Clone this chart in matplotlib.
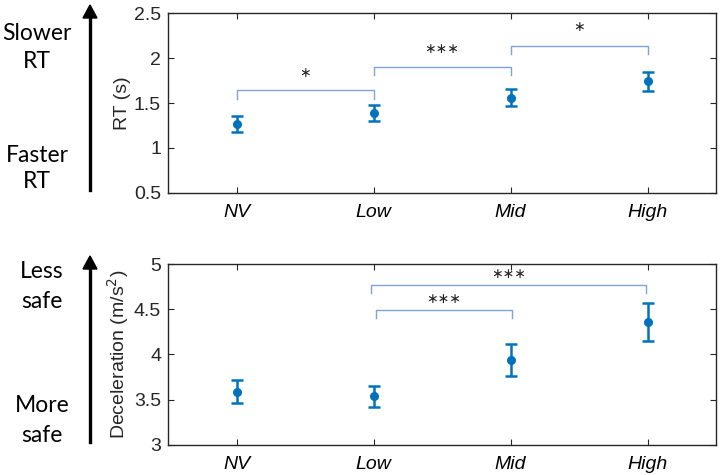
import matplotlib.pyplot as plt
import numpy as np

conditions = ["NV", "Low", "Mid", "High"]

rt_mean = [1.27, 1.39, 1.56, 1.74]
rt_err = [0.09, 0.09, 0.097, 0.105]

decel_mean = [3.59, 3.54, 3.94, 4.36]
decel_err = [0.13, 0.115, 0.175, 0.21]

# significance brackets: (from, to, bar height, leg drop, star height, n stars)
rt_sig = [(0, 1, 1.644, 0.10, 1.83, 1), (1, 2, 1.903, 0.09, 2.10, 3),
          (2, 3, 2.137, 0.095, 2.34, 1)]
decel_sig = [(1.02, 2.01, 4.49, 0.09, 4.61, 3), (0.98, 2.99, 4.77, 0.09, 4.89, 3)]

blue = "#0072BD"
bracket_col = "#7FA3DC"
spine_col = "#262626"

fig = plt.figure(figsize=(7.22, 4.75), dpi=100)
ax1 = fig.add_axes([0.2327, 0.5937, 0.759, 0.3789])
ax2 = fig.add_axes([0.2327, 0.0632, 0.759, 0.381])

x = np.arange(len(conditions))


def draw(ax, mean, err, sig, ylim, yticks, ylabel):
    ax.errorbar(x, mean, yerr=err, fmt="o", color=blue, ms=5.5, elinewidth=1.8,
                capsize=4.5, capthick=1.8)
    for a, b, h, drop, sy, n in sig:
        ax.plot([a, a, b, b], [h - drop, h, h, h - drop], color=bracket_col, lw=1)
        ax.text((a + b) / 2, sy, "\u2217" * n, ha="center",
                va="center", fontsize=10, color="#222222", family="DejaVu Sans")
    ax.set_xlim(-0.5, 3.5)
    ax.set_ylim(*ylim)
    ax.set_xticks(x)
    ax.set_xticklabels(conditions, style="italic", fontsize=14, family="Liberation Sans")
    ax.set_yticks(yticks)
    ax.set_yticklabels([("%g" % v) for v in yticks], fontsize=14, family="Liberation Sans",
                       color=spine_col)
    ax.tick_params(direction="in", top=True, right=True, length=4, width=0.8,
                   color=spine_col)
    ax.tick_params(axis="x", pad=8)
    ax.tick_params(axis="y", pad=5)
    for s in ax.spines.values():
        s.set_color(spine_col)
        s.set_linewidth(1)
    ax.set_ylabel(ylabel, fontsize=14, family="Liberation Sans", color=spine_col, labelpad=2)


draw(ax1, rt_mean, rt_err, rt_sig, (0.5, 2.5), [0.5, 1, 1.5, 2, 2.5], "RT (s)")
draw(ax2, decel_mean, decel_err, decel_sig, (3, 5), [3, 3.5, 4, 4.5, 5],
     "Deceleration (m/s$^2$)")

# direction arrows and side captions
for y0, y1 in [(190, 5), (442, 256)]:
    fig.add_artist(plt.Line2D([90 / 722, 90 / 722], [1 - y0 / 475, 1 - (y1 + 10) / 475],
                              color="black", lw=2.4))
    fig.patches.append(plt.Polygon([[83 / 722, 1 - (y1 + 13) / 475], [97 / 722, 1 - (y1 + 13) / 475],
                                    [90 / 722, 1 - y1 / 475]], closed=True, color="black",
                                   transform=fig.transFigure, figure=fig))

side_txt = [("Slower", 37, 33), ("RT", 37, 62), ("Faster", 37, 155), ("RT", 37, 182),
            ("Less", 42, 272), ("safe", 42, 302), ("More", 42, 406), ("safe", 42, 436)]
for t, px, py in side_txt:
    fig.text(px / 722, 1 - py / 475, t, ha="center", va="center", fontsize=16.5,
             family="Lato")

fig.savefig("out.png", dpi=100)
